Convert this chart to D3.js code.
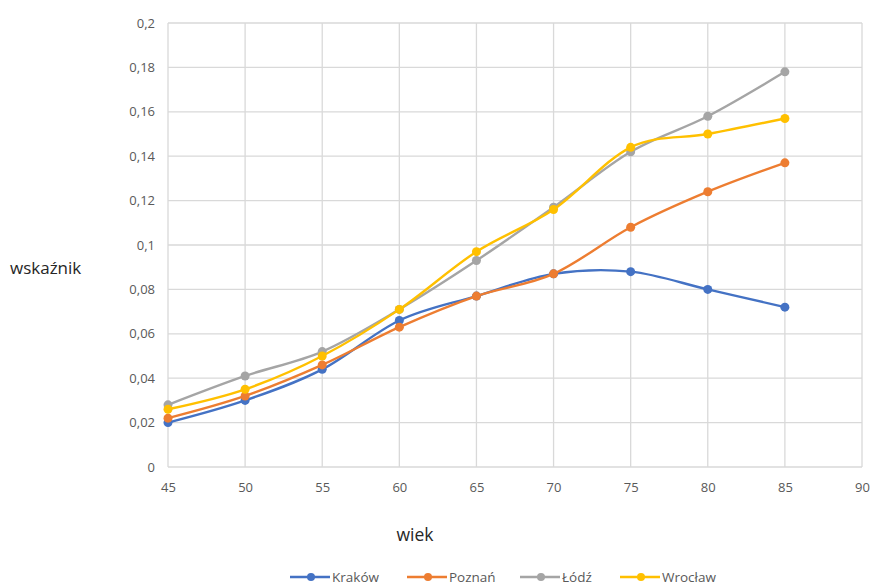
<!DOCTYPE html>
<html>
<head>
<meta charset="utf-8">
<script src="https://cdn.jsdelivr.net/npm/d3@7"></script>
<style>
  body { margin: 0; background: #fff; }
  svg text { font-family: "Open Sans", "Liberation Sans", sans-serif; }
</style>
</head>
<body>
<div id="chart"></div>
<script>
// data
const ages = [45, 50, 55, 60, 65, 70, 75, 80, 85];
const krakow  = [0.020, 0.030, 0.044, 0.066, 0.077, 0.087, 0.088, 0.080, 0.072];
const poznan  = [0.022, 0.032, 0.046, 0.063, 0.077, 0.087, 0.108, 0.124, 0.137];
const lodz    = [0.028, 0.041, 0.052, 0.071, 0.093, 0.117, 0.142, 0.158, 0.178];
const wroclaw = [0.026, 0.035, 0.050, 0.071, 0.097, 0.116, 0.144, 0.150, 0.157];
const seriesNames = ['Kraków', 'Poznań', 'Łódź', 'Wrocław'];
const xTicks = [45, 50, 55, 60, 65, 70, 75, 80, 85, 90];
const yTicks = [0, 0.02, 0.04, 0.06, 0.08, 0.1, 0.12, 0.14, 0.16, 0.18, 0.2];

const colors = ['#4472C4', '#ED7D31', '#A5A5A5', '#FFC000'];
const allSeries = [krakow, poznan, lodz, wroclaw];

const width = 875, height = 587;
const dims = { left: 168, right: 862, top: 23, bottom: 467 };

const svg = d3.select('#chart').append('svg')
  .attr('width', width)
  .attr('height', height);

const x = d3.scaleLinear().domain([45, 90]).range([dims.left, dims.right]);
const y = d3.scaleLinear().domain([0, 0.2]).range([dims.bottom, dims.top]);

const fmt = d => String(+d.toFixed(2)).replace('.', ',');

// gridlines
svg.append('g')
  .selectAll('line.h')
  .data(yTicks)
  .join('line')
  .attr('x1', dims.left).attr('x2', dims.right)
  .attr('y1', d => y(d)).attr('y2', d => y(d))
  .attr('stroke', '#d9d9d9').attr('stroke-width', 1.3);

svg.append('g')
  .selectAll('line.v')
  .data(xTicks)
  .join('line')
  .attr('x1', d => x(d)).attr('x2', d => x(d))
  .attr('y1', dims.top).attr('y2', dims.bottom)
  .attr('stroke', '#d9d9d9').attr('stroke-width', 1.3);

// y axis labels
const yAxis = svg.append('g')
  .attr('transform', `translate(${dims.left},0)`)
  .call(d3.axisLeft(y).tickValues(yTicks).tickFormat(fmt).tickSize(0).tickPadding(13));
yAxis.select('.domain').remove();
yAxis.selectAll('text').attr('fill', '#595959').attr('font-size', 13);

// x axis labels
const xAxis = svg.append('g')
  .attr('transform', `translate(0,${dims.bottom})`)
  .call(d3.axisBottom(x).tickValues(xTicks).tickFormat(d3.format('d')).tickSize(0).tickPadding(16));
xAxis.select('.domain').remove();
xAxis.selectAll('text').attr('fill', '#595959').attr('font-size', 13);

// axis titles
svg.append('text')
  .attr('x', 415).attr('y', 541)
  .attr('text-anchor', 'middle')
  .attr('font-size', 17.5)
  .attr('fill', '#262626')
  .text('wiek');

svg.append('text')
  .attr('x', 10).attr('y', 274)
  .attr('font-size', 17)
  .attr('fill', '#262626')
  .text('wskaźnik');

// lines
const line = d3.line()
  .x((d, i) => x(ages[i]))
  .y(d => y(d))
  .curve(d3.curveCardinal.tension(0));

allSeries.forEach((vals, k) => {
  const g = svg.append('g');
  g.append('path')
    .attr('d', line(vals))
    .attr('fill', 'none')
    .attr('stroke', colors[k])
    .attr('stroke-width', 2.4);
  g.selectAll('circle')
    .data(vals)
    .join('circle')
    .attr('cx', (d, i) => x(ages[i]))
    .attr('cy', d => y(d))
    .attr('r', 4.5)
    .attr('fill', colors[k]);
});

// legend
const legendX = [290, 407, 520, 620];
const legend = svg.append('g').attr('transform', 'translate(0,577)');
seriesNames.forEach((name, k) => {
  const g = legend.append('g').attr('transform', `translate(${legendX[k]},0)`);
  g.append('line')
    .attr('x1', 0).attr('x2', 40)
    .attr('y1', 0).attr('y2', 0)
    .attr('stroke', colors[k]).attr('stroke-width', 2.4);
  g.append('circle').attr('cx', 21).attr('cy', 0).attr('r', 4).attr('fill', colors[k]);
  g.append('text')
    .attr('x', 42).attr('y', 4.5)
    .attr('font-size', 13.5)
    .attr('fill', '#595959')
    .text(name);
});
</script>
</body>
</html>
